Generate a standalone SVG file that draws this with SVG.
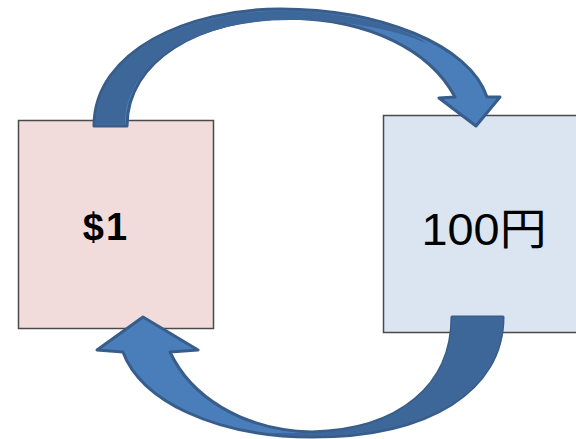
<svg xmlns="http://www.w3.org/2000/svg" width="576" height="439" viewBox="0 0 576 439">
  <style>
    .box { stroke: #4a4a4a; stroke-width: 1.5; }
    .label { font-family: "Liberation Sans", "Noto Sans CJK JP", sans-serif; fill: #000; text-anchor: middle; }
    .arrow-front { fill: #4a7ebb; stroke: #385d8a; stroke-width: 3; stroke-linejoin: round; }
    .arrow-back { fill: #3d6699; }
  </style>
  <rect width="576" height="439" fill="#ffffff"/>

  <!-- USD box -->
  <g id="node-usd">
    <rect class="box" x="18.5" y="120.5" width="195" height="208" fill="#f2dcdb"/>
    <text class="label" x="106" y="240" font-size="38" font-weight="bold" letter-spacing="2">$1</text>
  </g>

  <!-- JPY box -->
  <g id="node-jpy">
    <rect class="box" x="383.5" y="115.5" width="194" height="217" fill="#dbe5f1"/>
    <text class="label" x="484" y="245" font-size="44" textLength="125" lengthAdjust="spacingAndGlyphs">100円</text>
  </g>

  <g id="connectors">
    <!-- upper arc: $1 to 100円 -->
    <path class="arrow-front" d="M94,126 C94,50 190,9 280,9 C380,9 470,45 487,97 L500,97 L476,126 L439,98 L455,97 C430,50 370,20 290,18 C200,18 127,60 127,126 Z"/>
    <path class="arrow-back" d="M96,124 C96,52 190,11 280,11 C340,11 400,24 428,44 C390,27 340,20 290,20 C200,20 125,60 125,124 Z"/>

    <!-- lower arc: 100円 to $1 -->
    <path class="arrow-front" d="M503,317 C503,390 430,437 312,437 C215,437 140,400 123,352 L97,350 L143,317 L198,350 L170,352 C190,395 240,430 312,432 C400,430 452,385 452,317 Z"/>
    <path class="arrow-back" d="M503,317 C503,390 430,436 312,436 C295,436 280,435 266,433 C282,433 297,433 312,433 C400,430 452,385 452,317 Z"/>
  </g>
</svg>
